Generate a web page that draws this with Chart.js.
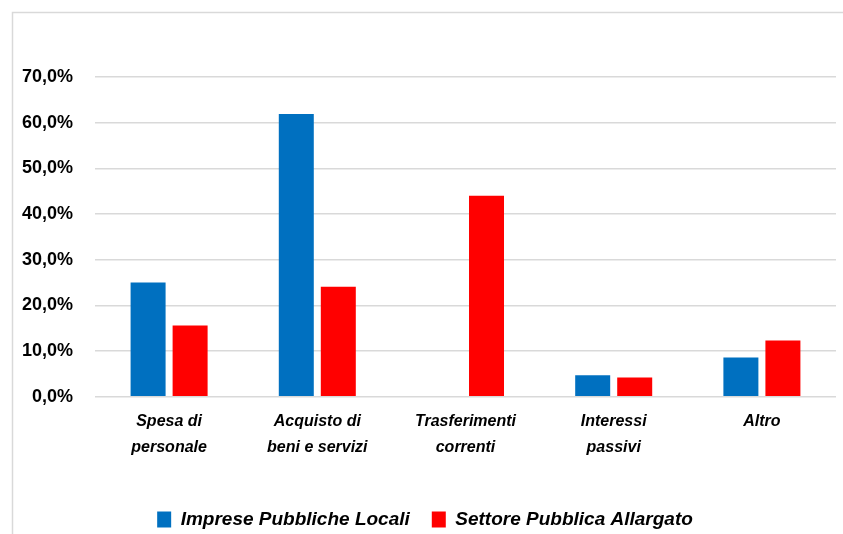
<!DOCTYPE html>
<html>
<head>
<meta charset="utf-8">
<script src="https://cdn.jsdelivr.net/npm/chart.js@4"></script>
<style>
    html, body { margin: 0; padding: 0; background: #fff; }
    #wrap { width: 843px; height: 534px; position: relative; }
</style>
</head>
<body>
<div id="wrap"><canvas id="Spese-Chart"></canvas></div>
<script>
// categories and values (percent)
var categories = [['Spesa di', 'personale'], ['Acquisto di', 'beni e servizi'], ['Trasferimenti', 'correnti'], ['Interessi', 'passivi'], ['Altro']];
var impreseLocali = [25.0, 61.9, null, 4.7, 8.6];
var settoreAllargato = [15.6, 24.1, 44.0, 4.2, 12.3];
var yTicks = [0, 10, 20, 30, 40, 50, 60, 70];

var fontFamily = "'Liberation Sans', Arial, sans-serif";

// light grey frame around the whole chart (right and bottom edges are cut off)
var framePlugin = {
    id: 'frame',
    beforeDraw: function (chart) {
        var c = chart.ctx;
        c.save();
        c.fillStyle = '#fff';
        c.fillRect(0, 0, chart.width, chart.height);
        c.strokeStyle = '#d9d9d9';
        c.lineWidth = 1.5;
        c.strokeRect(12.5, 12.5, 900, 600);
        c.restore();
    }
};

// legend in the original sits a bit right of the plot centre
var legendShift = {
    id: 'legendShift',
    afterLayout: function (chart) {
        chart.legend.left += 7;
        chart.legend.right += 7;
    }
};

window.onload = function () {
    var ctx = document.getElementById('Spese-Chart').getContext('2d');

    var spese = new Chart(ctx, {
        type: 'bar',
        data: {
            labels: categories,
            datasets: [
                {
                    label: 'Imprese Pubbliche Locali',
                    data: impreseLocali,
                    backgroundColor: '#0070C0',
                    borderWidth: 0
                },
                {
                    label: 'Settore Pubblica Allargato',
                    data: settoreAllargato,
                    backgroundColor: '#FF0000',
                    borderWidth: 0
                }
            ]
        },
        options: {
            responsive: true,
            maintainAspectRatio: false,
            animation: false,
            layout: {
                padding: { left: 0, right: 7, top: 77, bottom: -5 }
            },
            datasets: {
                bar: {
                    categoryPercentage: 0.567,
                    barPercentage: 0.833
                }
            },
            plugins: {
                tooltip: { enabled: false },
                legend: {
                    position: 'bottom',
                    labels: {
                        color: '#000',
                        font: { family: fontFamily, size: 19, style: 'italic', weight: 'bold' },
                        boxWidth: 14,
                        boxHeight: 16,
                        padding: 22
                    }
                }
            },
            scales: {
                x: {
                    grid: { display: false, drawTicks: false },
                    border: { display: false },
                    afterFit: function (axis) { axis.height += 16; },
                    ticks: {
                        color: '#000',
                        padding: 12,
                        maxRotation: 0,
                        font: { family: fontFamily, size: 16, style: 'italic', weight: 'bold', lineHeight: 1.6 }
                    }
                },
                y: {
                    min: 0,
                    max: 70,
                    afterBuildTicks: function (axis) {
                        axis.ticks = yTicks.map(function (v) { return { value: v }; });
                    },
                    afterFit: function (axis) { axis.width = 95; },
                    grid: { color: '#d9d9d9', lineWidth: 1.5, drawTicks: false },
                    border: { display: false },
                    ticks: {
                        color: '#000',
                        padding: 22,
                        font: { family: fontFamily, size: 18, weight: 'bold' },
                        callback: function (v) { return v.toFixed(1).replace('.', ',') + '%'; }
                    }
                }
            }
        },
        plugins: [framePlugin, legendShift]
    });
};
</script>
</body>
</html>
